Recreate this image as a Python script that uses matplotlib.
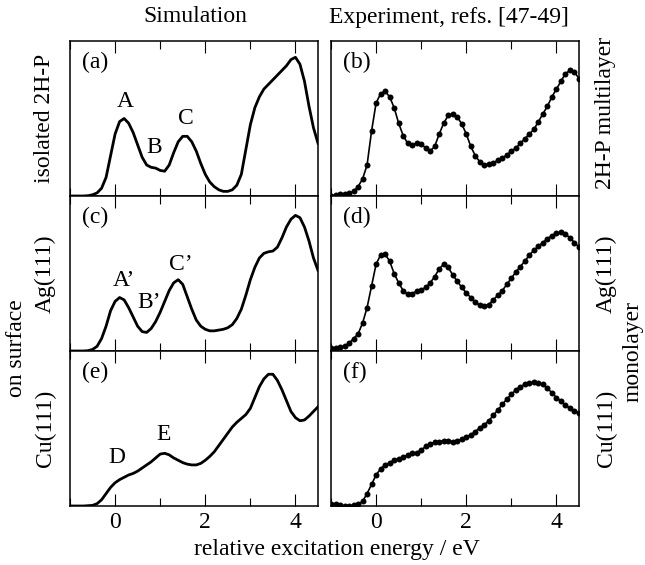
import numpy as np
import matplotlib.pyplot as plt
from matplotlib.ticker import MultipleLocator

plt.rcParams['font.family'] = ['Liberation Serif', 'DejaVu Serif']

# energy grid (eV), 0.1 eV steps from -1.0 to 4.5
energy = np.round(np.arange(-1.0, 4.55, 0.1), 2)

# simulation spectra (arb. units)
sim_isolated = [0.0, 0.0, 0.0, 0.0, 0.002, 0.008, 0.02, 0.05, 0.12, 0.26,
                0.40, 0.48, 0.50, 0.47, 0.41, 0.33, 0.25, 0.20, 0.185, 0.18,
                0.165, 0.16, 0.20, 0.28, 0.35, 0.385, 0.385, 0.35, 0.29, 0.21,
                0.14, 0.09, 0.06, 0.04, 0.03, 0.03, 0.04, 0.07, 0.14, 0.30,
                0.46, 0.57, 0.64, 0.69, 0.72, 0.75, 0.78, 0.81, 0.84, 0.88,
                0.895, 0.85, 0.74, 0.58, 0.44, 0.34]
sim_ag = [0.0, 0.0, 0.0, 0.0, 0.002, 0.01, 0.03, 0.08, 0.16, 0.26,
          0.32, 0.345, 0.33, 0.28, 0.22, 0.16, 0.125, 0.12, 0.145, 0.19,
          0.25, 0.32, 0.39, 0.44, 0.46, 0.43, 0.35, 0.27, 0.20, 0.16,
          0.14, 0.13, 0.13, 0.135, 0.14, 0.15, 0.17, 0.21, 0.27, 0.36,
          0.46, 0.54, 0.60, 0.63, 0.64, 0.645, 0.67, 0.73, 0.80, 0.85,
          0.875, 0.86, 0.80, 0.71, 0.60, 0.52]
sim_cu = [0.0, 0.0, 0.0, 0.0, 0.002, 0.004, 0.015, 0.04, 0.08, 0.12,
          0.15, 0.17, 0.185, 0.20, 0.21, 0.225, 0.245, 0.265, 0.285, 0.31,
          0.335, 0.34, 0.33, 0.31, 0.295, 0.28, 0.27, 0.265, 0.265, 0.275,
          0.295, 0.32, 0.35, 0.39, 0.43, 0.47, 0.51, 0.54, 0.565, 0.59,
          0.63, 0.70, 0.77, 0.82, 0.85, 0.85, 0.81, 0.75, 0.68, 0.61,
          0.57, 0.55, 0.555, 0.58, 0.61, 0.64]

# experimental spectra (refs. [47-49])
exp_multilayer = [0.0, 0.005, 0.01, 0.015, 0.02, 0.03, 0.06, 0.11, 0.20, 0.42,
                  0.60, 0.66, 0.675, 0.64, 0.57, 0.47, 0.39, 0.34, 0.33, 0.34,
                  0.335, 0.31, 0.29, 0.32, 0.40, 0.47, 0.52, 0.53, 0.51, 0.465,
                  0.40, 0.32, 0.26, 0.22, 0.20, 0.205, 0.215, 0.23, 0.245, 0.265,
                  0.29, 0.31, 0.34, 0.37, 0.40, 0.43, 0.48, 0.53, 0.58, 0.64,
                  0.69, 0.74, 0.79, 0.81, 0.80, 0.757]
exp_ag = [0.02, 0.02, 0.025, 0.03, 0.05, 0.08, 0.11, 0.18, 0.28, 0.42,
          0.56, 0.62, 0.625, 0.58, 0.50, 0.44, 0.39, 0.365, 0.37, 0.385,
          0.395, 0.41, 0.44, 0.48, 0.53, 0.56, 0.54, 0.49, 0.45, 0.41,
          0.375, 0.345, 0.315, 0.295, 0.29, 0.30, 0.33, 0.36, 0.39, 0.43,
          0.47, 0.51, 0.545, 0.58, 0.62, 0.65, 0.675, 0.70, 0.725, 0.745,
          0.76, 0.765, 0.755, 0.73, 0.70, 0.67]
exp_cu = [0.01, 0.01, 0.005, 0.0, 0.0, 0.005, 0.01, 0.03, 0.08, 0.14,
          0.20, 0.24, 0.265, 0.28, 0.295, 0.305, 0.315, 0.33, 0.34, 0.345,
          0.36, 0.385, 0.40, 0.41, 0.415, 0.42, 0.42, 0.415, 0.42, 0.43,
          0.445, 0.46, 0.48, 0.505, 0.525, 0.55, 0.585, 0.62, 0.655, 0.69,
          0.72, 0.75, 0.77, 0.785, 0.795, 0.80, 0.795, 0.785, 0.76, 0.73,
          0.70, 0.675, 0.65, 0.63, 0.615, 0.60]

sim_series = [sim_isolated, sim_ag, sim_cu]
exp_series = [exp_multilayer, exp_ag, exp_cu]
sim_panels = ["(a)", "(c)", "(e)"]
exp_panels = ["(b)", "(d)", "(f)"]
left_labels = ["isolated 2H-P", "Ag(111)", "Cu(111)"]
right_labels = ["2H-P multilayer", "Ag(111)", "Cu(111)"]

# peak annotations: (text, energy, height)
peaks = [
    [("A", 0.22, 0.61), ("B", 0.87, 0.31), ("C", 1.58, 0.50)],
    [("A\u2019", 0.20, 0.455), ("B\u2019", 0.76, 0.31), ("C\u2019", 1.46, 0.56)],
    [("D", 0.05, 0.31), ("E", 1.07, 0.46)],
]

W, H = 645, 565
fig = plt.figure(figsize=(W / 100, H / 100), dpi=100)

FS = 17
col_left = [70, 331]
col_w = 248
row_top0, row_h = 41, 155


def style_axis(ax, bottom_labels):
    ax.set_xlim(-1, 4.5)
    ax.set_ylim(0, 1)
    ax.xaxis.set_major_locator(MultipleLocator(2))
    ax.xaxis.set_minor_locator(MultipleLocator(1))
    ax.tick_params(axis="x", which="both", direction="in", top=True, bottom=True,
                   labelbottom=bottom_labels, labelsize=FS, pad=4, width=0.8)
    ax.tick_params(axis="x", which="major", length=8.5)
    ax.tick_params(axis="x", which="minor", length=5.5)
    ax.set_yticks([])
    for sp in ax.spines.values():
        sp.set_linewidth(1.1)


for r in range(3):
    bottom = (H - (row_top0 + row_h * (r + 1))) / H
    ax_s = fig.add_axes([col_left[0] / W, bottom, col_w / W, row_h / H])
    ax_e = fig.add_axes([col_left[1] / W, bottom, col_w / W, row_h / H])

    ax_s.plot(energy, sim_series[r], color="black", lw=2.0)
    ax_e.plot(energy, exp_series[r], color="black", lw=1.2, marker="o",
              markersize=4.3, markeredgewidth=0)

    for ax in (ax_s, ax_e):
        style_axis(ax, r == 2)

    ax_s.text(0.05, 0.93, sim_panels[r], transform=ax_s.transAxes,
              fontsize=FS, va="top", ha="left")
    ax_e.text(0.05, 0.93, exp_panels[r], transform=ax_e.transAxes,
              fontsize=FS, va="top", ha="left")
    for txt, x, y in peaks[r]:
        ax_s.text(x, y, txt, fontsize=FS, ha="center", va="center")

    yc = 1 - (row_top0 + row_h * (r + 0.5)) / H
    fig.text(45 / W, yc, left_labels[r], rotation=90, fontsize=FS,
             ha="center", va="center")
    fig.text(606 / W, yc + (6 / H if r == 0 else 0), right_labels[r],
             rotation=90, fontsize=FS, ha="center", va="center")

fig.text(195 / W, 1 - 17 / H, "Simulation", fontsize=FS, ha="center", va="center")
fig.text(449 / W, 1 - 17 / H, "Experiment, refs. [47-49]", fontsize=FS,
         ha="center", va="center")
fig.text(17 / W, 1 - 348 / H, "on surface", rotation=90, fontsize=FS,
         ha="center", va="center")
fig.text(633 / W, 1 - 352 / H, "monolayer", rotation=90, fontsize=FS,
         ha="center", va="center")
fig.text(337 / W, 1 - 550 / H, "relative excitation energy / eV", fontsize=FS,
         ha="center", va="center")

fig.savefig("out.png", dpi=100)
